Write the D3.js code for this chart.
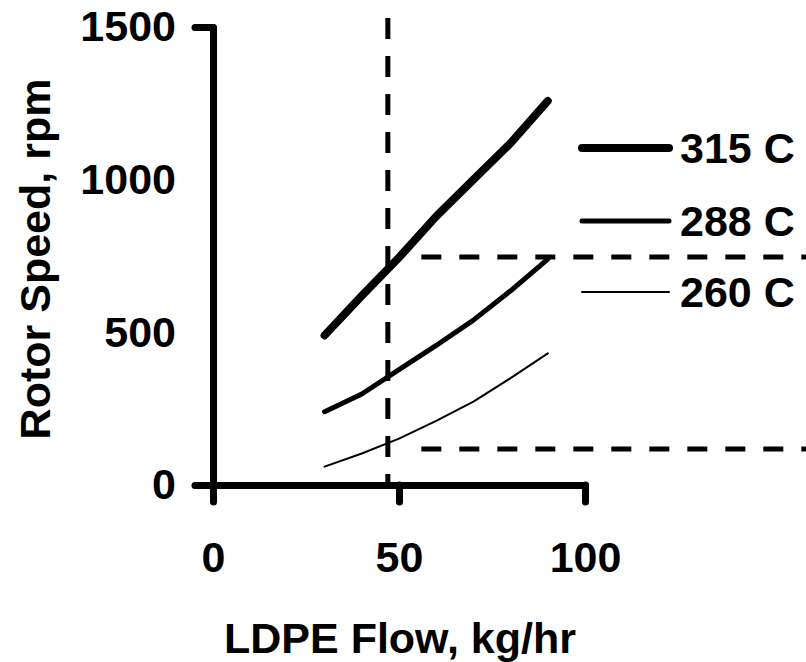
<!DOCTYPE html>
<html>
<head>
<meta charset="utf-8">
<script src="https://cdn.jsdelivr.net/npm/d3@7"></script>
<style>
  html, body { margin: 0; padding: 0; background: #fff; }
  svg { display: block; }
  text { font-family: "Liberation Sans", Arial, sans-serif; font-weight: bold; fill: #000; }
</style>
</head>
<body>
<svg id="chart" width="806" height="662"></svg>
<script>
// ---- data ----
const flow = [30, 40, 50, 60, 70, 80, 90];               // LDPE Flow, kg/hr
const speed315 = [490, 620, 745, 880, 1000, 1120, 1258];  // rpm at 315 C
const speed288 = [240, 298, 378, 457, 540, 636, 740];     // rpm at 288 C
const speed260 = [60, 103, 152, 210, 273, 350, 431];      // rpm at 260 C
const seriesNames = ["315 C", "288 C", "260 C"];
const xTicks = [0, 50, 100];
const yTicks = [0, 500, 1000, 1500];
const refFlow = 47;            // vertical dashed reference (kg/hr)
const refSpeeds = [747, 118];  // horizontal dashed references (rpm)
const refSpeedStart = 56;      // flow where horizontal references start

const series = [
  { name: seriesNames[0], values: speed315, width: 8 },
  { name: seriesNames[1], values: speed288, width: 5 },
  { name: seriesNames[2], values: speed260, width: 2 }
];

const svg = d3.select("#chart");
const x = d3.scaleLinear().domain([0, 100]).range([213, 585]);
const y = d3.scaleLinear().domain([0, 1500]).range([485, 27]);
const FS = 43;
const fmt = d3.format("d");

// reference dashed lines
svg.append("line")
  .attr("x1", x(refFlow)).attr("x2", x(refFlow))
  .attr("y1", 18).attr("y2", y(0))
  .attr("stroke", "#000").attr("stroke-width", 5)
  .attr("stroke-dasharray", "21 17");
refSpeeds.forEach(v => {
  svg.append("line")
    .attr("x1", x(refSpeedStart)).attr("x2", 830)
    .attr("y1", y(v)).attr("y2", y(v))
    .attr("stroke", "#000").attr("stroke-width", 5)
    .attr("stroke-dasharray", "20 18");
});

// axes
const yAxis = svg.append("g").attr("transform", `translate(${x(0)},0)`)
  .call(d3.axisLeft(y).tickValues(yTicks).tickFormat(fmt).tickSize(18).tickSizeOuter(0).tickPadding(19));
const xAxis = svg.append("g").attr("transform", `translate(0,${y(0)})`)
  .call(d3.axisBottom(x).tickValues(xTicks).tickFormat(fmt).tickSize(17).tickSizeOuter(0).tickPadding(0));

[yAxis, xAxis].forEach(g => {
  g.select(".domain").attr("stroke", "#000").attr("stroke-width", 7).attr("stroke-linecap", "round");
  g.selectAll(".tick line").attr("stroke", "#000").attr("stroke-width", 7).attr("stroke-linecap", "round");
  g.selectAll("text").attr("font-size", FS).attr("fill", "#000")
    .style("font-family", '"Liberation Sans", Arial, sans-serif').style("font-weight", "bold");
});
yAxis.selectAll(".tick line").filter(d => d === 500 || d === 1000).remove();
xAxis.selectAll("text").attr("y", 87).attr("dy", 0);

// axis titles
svg.append("text").attr("x", 400).attr("y", 653).attr("text-anchor", "middle")
  .attr("font-size", FS).text("LDPE Flow, kg/hr");
svg.append("text").attr("transform", "translate(50,259) rotate(-90)")
  .attr("text-anchor", "middle").attr("font-size", FS).text("Rotor Speed, rpm");

// series lines
const line = d3.line().x((d, i) => x(flow[i])).y(d => y(d));
series.forEach(s => {
  svg.append("path").datum(s.values)
    .attr("d", line)
    .attr("fill", "none").attr("stroke", "#000")
    .attr("stroke-width", s.width)
    .attr("stroke-linecap", "round").attr("stroke-linejoin", "round");
});

// legend
const legendY = [148, 221, 292];
series.forEach((s, i) => {
  svg.append("line")
    .attr("x1", 582).attr("x2", 669)
    .attr("y1", legendY[i]).attr("y2", legendY[i])
    .attr("stroke", "#000").attr("stroke-width", s.width).attr("stroke-linecap", "round");
  svg.append("text").attr("x", 680).attr("y", legendY[i] + 15)
    .attr("font-size", FS).text(s.name);
});
</script>
</body>
</html>
